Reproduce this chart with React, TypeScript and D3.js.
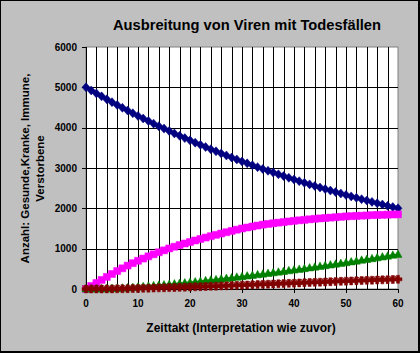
import React from "react";
import * as d3 from "d3";

const steps = d3.range(0, 61);

const gesunde = [
  5000, 4924, 4850, 4776, 4704, 4633, 4562, 4493, 4425, 4358, 4292,
  4227, 4163, 4100, 4038, 3977, 3917, 3857, 3799, 3741, 3685,
  3629, 3574, 3520, 3466, 3414, 3362, 3311, 3261, 3212, 3163,
  3115, 3068, 3021, 2976, 2931, 2886, 2843, 2800, 2757, 2715,
  2674, 2634, 2594, 2555, 2516, 2478, 2440, 2403, 2367, 2331,
  2296, 2261, 2227, 2193, 2160, 2127, 2095, 2063, 2032, 2001,
];

const kranke = [
  0, 75, 150, 225, 300, 373, 445, 513, 580, 640, 700,
  755, 810, 860, 910, 958, 1005, 1048, 1090, 1128, 1165,
  1203, 1240, 1275, 1310, 1343, 1375, 1408, 1440, 1470, 1500,
  1525, 1550, 1573, 1595, 1613, 1630, 1645, 1660, 1675, 1690,
  1703, 1715, 1728, 1740, 1750, 1760, 1770, 1780, 1790, 1800,
  1806, 1812, 1818, 1824, 1830, 1835, 1839, 1843, 1847, 1850,
];

const immune = [
  0, 0, 1, 3, 6, 10, 15, 21, 28, 37, 47,
  57, 68, 79, 90, 101, 113, 125, 137, 149, 162,
  175, 189, 203, 217, 231, 245, 260, 275, 290, 305,
  320, 336, 352, 368, 384, 400, 417, 434, 451, 468,
  486, 504, 522, 540, 558, 576, 594, 613, 632, 651,
  671, 691, 711, 731, 751, 772, 793, 814, 835, 856,
];

const verstorbene = [
  0, 0, 0, 1, 2, 3, 5, 7, 9, 12, 15,
  18, 21, 24, 28, 31, 35, 38, 42, 46, 50,
  54, 58, 62, 67, 71, 76, 80, 85, 90, 95,
  100, 105, 110, 115, 120, 125, 130, 135, 140, 145,
  150, 155, 160, 165, 170, 175, 180, 185, 190, 195,
  200, 205, 209, 214, 218, 223, 227, 232, 236, 240,
];

const yTicks = [0, 1000, 2000, 3000, 4000, 5000, 6000];
const xTicks = [0, 10, 20, 30, 40, 50, 60];
const xGrid = d3.range(2, 60, 2);

const title = "Ausbreitung von Viren mit Todesfällen";
const yTitle1 = "Anzahl: Gesunde,Kranke, Immune,";
const yTitle2 = "Verstorbene";
const xTitle = "Zeittakt (Interpretation wie zuvor)";

const W = 420;
const H = 353;
const L = 86;
const R = 398;
const T = 47;
const B = 289;
const font = "'Liberation Sans', Arial, sans-serif";

const x = d3.scaleLinear().domain([0, 60]).range([L, R]);
const y = d3.scaleLinear().domain([0, 6000]).range([B, T]);

const diamond = "M0,-4.5L4,0L0,4.5L-4,0Z";
const square = "M-3.5,-3.5H3.5V3.5H-3.5Z";
const triangle = "M0,-4.5L4,3L-4,3Z";
const star = "M-1.5,-4H1.5V-1.5H4V1.5H1.5V4H-1.5V1.5H-4V-1.5H-1.5Z M-3.5,-3L-1,-1L-3,-3.5Z";

const series = [
  { name: "Gesunde", values: gesunde, color: "#000080", marker: diamond },
  { name: "Kranke", values: kranke, color: "#ff00ff", marker: square },
  { name: "Immune", values: immune, color: "#008000", marker: triangle },
  { name: "Verstorbene", values: verstorbene, color: "#800000", marker: star },
];

export default function App() {
  const line = (vals: number[]) =>
    d3.line<number>().x((_, i) => x(steps[i])).y((d) => y(d))(vals) || "";
  return (
    <svg
      width={W}
      height={H}
      style={{ position: "absolute", left: 0, top: 0, display: "block" }}
      fontFamily={font}
    >
      <rect x={0.5} y={0.5} width={418} height={351} fill="#c0c0c0" stroke="#000" strokeWidth={1} />
      <line x1={419.5} y1={0} x2={419.5} y2={353} stroke="#000" />
      <line x1={0} y1={352.5} x2={420} y2={352.5} stroke="#000" />
      <text x={247} y={30} textAnchor="middle" fontSize={14.7} fontWeight="bold">
        {title}
      </text>
      <rect x={L} y={T} width={R - L} height={B - T} fill="#fff" stroke="#808080" strokeWidth={1} />
      {xGrid.map((g) => (
        <line key={"vg" + g} x1={Math.round(x(g)) + 0.5} x2={Math.round(x(g)) + 0.5} y1={T} y2={B} stroke="#000" />
      ))}
      {yTicks.slice(1, -1).map((t) => (
        <line key={"hg" + t} x1={L} x2={R} y1={Math.round(y(t)) + 0.5} y2={Math.round(y(t)) + 0.5} stroke="#000" />
      ))}
      <line x1={L + 0.5} x2={L + 0.5} y1={T} y2={B} stroke="#000" />
      <line x1={L} x2={R} y1={B + 0.5} y2={B + 0.5} stroke="#000" />
      {yTicks.map((t) => (
        <g key={"yt" + t}>
          <line x1={L - 4} x2={L} y1={Math.round(y(t)) + 0.5} y2={Math.round(y(t)) + 0.5} stroke="#000" />
          <text x={77} y={y(t) + 3.5} textAnchor="end" fontSize={10} fontWeight="bold">
            {t}
          </text>
        </g>
      ))}
      {xTicks.map((t) => (
        <g key={"xt" + t}>
          <line x1={Math.round(x(t)) + 0.5} x2={Math.round(x(t)) + 0.5} y1={B} y2={B + 4} stroke="#000" />
          <text x={x(t)} y={307} textAnchor="middle" fontSize={10} fontWeight="bold">
            {t}
          </text>
        </g>
      ))}
      <text
        transform="translate(29,168.5) rotate(-90)"
        textAnchor="middle"
        fontSize={11.5}
        fontWeight="bold"
      >
        {yTitle1}
      </text>
      <text
        transform="translate(44,168.5) rotate(-90)"
        textAnchor="middle"
        fontSize={11.5}
        fontWeight="bold"
      >
        {yTitle2}
      </text>
      <text x={241} y={332} textAnchor="middle" fontSize={12} fontWeight="bold">
        {xTitle}
      </text>
      {series.map((s) => (
        <g key={s.name}>
          <path d={line(s.values)} fill="none" stroke={s.color} strokeWidth={2} />
          {s.values.map((v, i) => (
            <path
              key={i}
              d={s.marker}
              transform={`translate(${x(steps[i])},${y(v)})`}
              fill={s.color}
              stroke={s.color}
              strokeWidth={0.5}
            />
          ))}
        </g>
      ))}
    </svg>
  );
}
